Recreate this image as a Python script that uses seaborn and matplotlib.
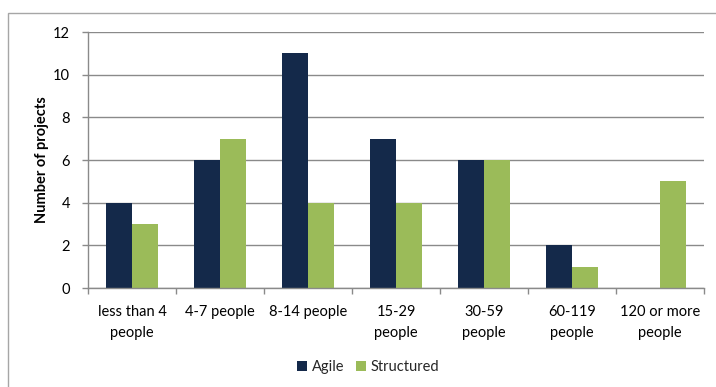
import matplotlib
matplotlib.use("Agg")
import matplotlib.pyplot as plt
from matplotlib.patches import Rectangle
from matplotlib.ticker import FixedLocator, MultipleLocator
import seaborn as sns
import pandas as pd

# Team-size categories and project counts per methodology
categories = ["less than 4\npeople", "4-7 people", "8-14 people", "15-29\npeople",
              "30-59\npeople", "60-119\npeople", "120 or more\npeople"]
agile = [4, 6, 11, 7, 6, 2, 0]
structured = [3, 7, 4, 4, 6, 1, 5]
series = ["Agile", "Structured"]
colors = ["#14294A", "#9BBB59"]

df = pd.DataFrame({
    "category": categories * 2,
    "count": agile + structured,
    "method": [series[0]] * len(categories) + [series[1]] * len(categories),
})

sns.set_theme(style="white")
plt.rcParams["font.family"] = ["Lato", "DejaVu Sans"]

W, H = 716, 387
fig = plt.figure(figsize=(W / 100, H / 100), dpi=100)
ax = fig.add_axes([88 / W, 1 - 288 / H, (704 - 88) / W, (288 - 32) / H])

sns.barplot(data=df, x="category", y="count", hue="method", order=categories,
            hue_order=series, palette=colors, width=0.58, gap=0,
            saturation=1, linewidth=0, ax=ax, legend=False)

grid_c = "#8a8a8a"
fs = 10.5
ax.set_ylim(0, 12)
ax.set_xlim(-0.5, len(categories) - 0.5)
ax.yaxis.set_major_locator(MultipleLocator(2))
ax.grid(axis="y", color=grid_c, linewidth=1)
ax.set_axisbelow(True)
for side in ["top", "right"]:
    ax.spines[side].set_visible(False)
for side in ["left", "bottom"]:
    ax.spines[side].set_color(grid_c)
    ax.spines[side].set_linewidth(1)

# Category labels centred, tick marks at the group boundaries
ax.xaxis.set_minor_locator(FixedLocator([i - 0.5 for i in range(len(categories) + 1)]))
ax.tick_params(axis="x", which="major", length=0, pad=12, labelsize=fs, colors="black")
ax.tick_params(axis="x", which="minor", bottom=True, length=4, width=1, color=grid_c, direction="out")
ax.tick_params(axis="y", which="major", left=True, length=4, width=1, color=grid_c,
               direction="out", pad=9, labelsize=fs, labelcolor="black")
for lbl in ax.get_xticklabels():
    lbl.set_linespacing(1.7)

ax.set_xlabel("")
ax.set_ylabel("Number of projects", fontsize=fs, fontweight="bold", color="black")
ax.yaxis.label.set_va("center")
ax.yaxis.set_label_coords((42 - 88) / (704 - 88), 0.5)

handles = [Rectangle((0, 0), 1, 1, facecolor=c, edgecolor="none") for c in colors]
fig.legend(handles, series, loc="center", bbox_to_anchor=(368 / W, 1 - 367 / H),
           ncol=2, frameon=False, fontsize=fs, handlelength=0.7, handleheight=0.7,
           handletextpad=0.3, columnspacing=0.8)

# Chart frame
fig.patches.append(Rectangle((8 / W, -0.1), 1.2, (H - 13) / H + 0.1,
                             transform=fig.transFigure, fill=False,
                             edgecolor="#a6a6a6", linewidth=1))

fig.savefig("out.png", dpi=100)
